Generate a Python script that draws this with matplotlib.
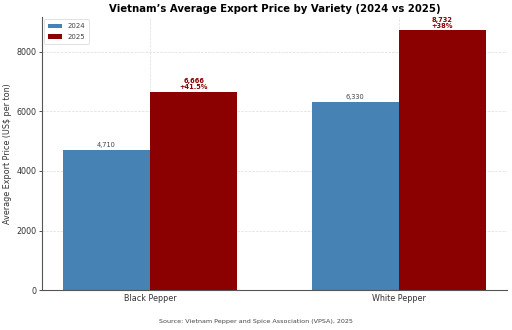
import matplotlib
matplotlib.use("Agg")
import matplotlib.pyplot as plt
import numpy as np

varieties = ["Black Pepper", "White Pepper"]
prices_2024 = [4710, 6330]
prices_2025 = [6666, 8732]
changes = ["+41.5%", "+38%"]

c2024 = "#4682b4"
c2025 = "#8b0000"

fig = plt.figure(figsize=(5.12, 3.30), dpi=100)
ax = fig.add_axes([0.082, 0.121, 0.908, 0.827])

x = np.arange(len(varieties))
w = 0.35
b1 = ax.bar(x - w/2, prices_2024, w, color=c2024, label="2024", zorder=2)
b2 = ax.bar(x + w/2, prices_2025, w, color=c2025, label="2025", zorder=2)

for rect, v in zip(b1, prices_2024):
    ax.text(rect.get_x() + rect.get_width()/2, v + 50, f"{v:,}",
            ha="center", va="bottom", fontsize=4.8, color="#444444")
for rect, v, c in zip(b2, prices_2025, changes):
    ax.text(rect.get_x() + rect.get_width()/2, v + 50, f"{v:,}\n{c}",
            ha="center", va="bottom", fontsize=4.8, color=c2025, fontweight="bold",
            linespacing=1.0)

ax.set_xticks(x)
ax.set_xticklabels(varieties, fontsize=5.8, color="#333333")
ax.set_yticks([0, 2000, 4000, 6000, 8000])
ax.tick_params(axis="y", labelsize=5.8, colors="#333333", length=2.5, width=0.6, pad=1.5)
ax.tick_params(axis="x", length=0, pad=3)
ax.set_ylim(0, 9168)
ax.set_ylabel("Average Export Price (US$ per ton)", fontsize=5.8, color="#333333", labelpad=3)
ax.set_title("Vietnam\u2019s Average Export Price by Variety (2024 vs 2025)",
             fontsize=7.3, fontweight="bold", pad=3.5)
ax.grid(True, linestyle="--", linewidth=0.5, color="#dddddd", zorder=0)
ax.set_axisbelow(True)
for s in ["top", "right"]:
    ax.spines[s].set_visible(False)
for s in ["left", "bottom"]:
    ax.spines[s].set_color("#555555")
    ax.spines[s].set_linewidth(0.8)

leg = ax.legend(loc="upper left", fontsize=5, frameon=True, handlelength=2.0,
                borderpad=0.6, labelspacing=0.6, borderaxespad=0.3)
leg.get_frame().set_linewidth(0.5)
for t in leg.get_texts():
    t.set_color("#444444")

fig.text(0.5, 0.025, "Source: Vietnam Pepper and Spice Association (VPSA), 2025",
         ha="center", va="center", fontsize=4.6, color="#444444")

fig.savefig("out.png", dpi=100)
